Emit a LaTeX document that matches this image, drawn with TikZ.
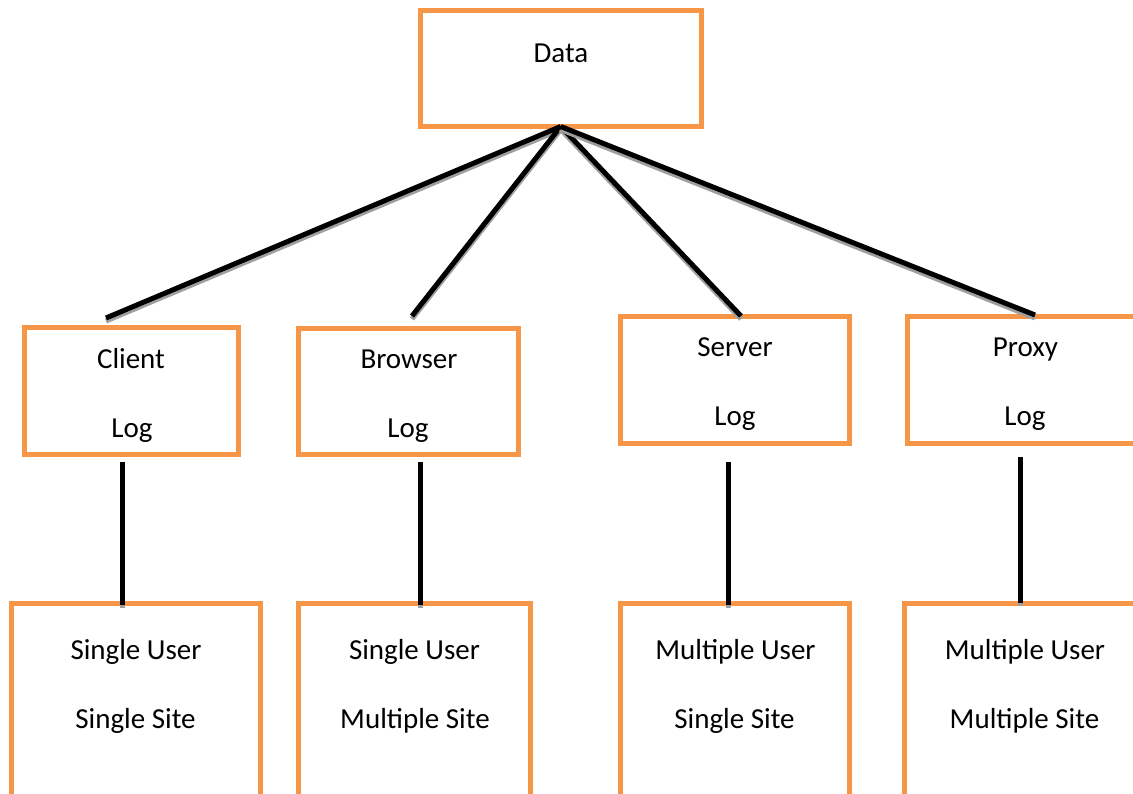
\documentclass[tikz,border=0pt]{standalone}
\usepackage{fontspec}
\setmainfont{Carlito}
\usetikzlibrary{calc}
\definecolor{boxorange}{RGB}{247,150,70}
\tikzset{
  box/.style={draw=boxorange, line width=5pt, fill=white, rectangle,
    inner sep=0pt, outer sep=0pt},
  txt/.style={anchor=base, inner sep=0pt, font=\fontsize{29}{34}\selectfont},
  link/.style={line width=5pt, black,
    preaction={draw=gray!75, line width=5pt, transform canvas={yshift=-3pt}}}
}
\begin{document}
\begin{tikzpicture}[x=1pt, y=-1pt]
\useasboundingbox (0,0) rectangle (1133,794);
\clip (0,0) rectangle (1133,794);

% top box
\node[box, minimum width=281.5pt, minimum height=115.5pt] (data) at (560.75,68.75) {};
\node[txt] (data-t) at (561,63) {Data};

% log boxes
\node[box, minimum width=214pt, minimum height=126.5pt] (client) at (131,391.25) {};
\node[box, minimum width=220pt, minimum height=126pt] (browser) at (408.5,391.5) {};
\node[box, minimum width=228.5pt, minimum height=126pt] (server) at (734.75,380) {};
\node[box, minimum width=233pt, minimum height=126.5pt] (proxy) at (1023.5,380.25) {};

\node[txt] (client-a) at (131,369) {Client};
\node[txt] (client-b) at (132,437) {Log};
\node[txt] (browser-a) at (409,369) {Browser};
\node[txt] (browser-b) at (408,437) {Log};
\node[txt] (server-a) at (735,357) {Server};
\node[txt] (server-b) at (735,425) {Log};
\node[txt] (proxy-a) at (1025.5,357) {Proxy};
\node[txt] (proxy-b) at (1025,425) {Log};

% user / site boxes
\node[box, minimum width=249pt, minimum height=220pt] (cus) at (136,713.5) {};
\node[box, minimum width=232pt, minimum height=220pt] (bus) at (414.5,713.5) {};
\node[box, minimum width=229pt, minimum height=220pt] (sus) at (735,713.5) {};
\node[box, minimum width=235.5pt, minimum height=220pt] (pus) at (1022.25,713.5) {};

\node[txt] (cus-a) at (136,659) {Single User};
\node[txt] (cus-b) at (135.5,728) {Single Site};
\node[txt] (bus-a) at (414.5,659) {Single User};
\node[txt] (bus-b) at (415,728) {Multiple Site};
\node[txt] (sus-a) at (735.5,659) {Multiple User};
\node[txt] (sus-b) at (734.5,728) {Single Site};
\node[txt] (pus-a) at (1025,659) {Multiple User};
\node[txt] (pus-b) at (1024.5,728) {Multiple Site};

% connector end points
\coordinate (client-in) at (106,318);
\coordinate (browser-in) at (412,316);
\coordinate (server-in) at (741,316);
\coordinate (proxy-in) at (1035,315);
\coordinate (client-out) at (122,462);
\coordinate (browser-out) at (420,462);
\coordinate (server-out) at (728,462);
\coordinate (proxy-out) at (1020,457);

% data to logs
\draw[link] (data.south) -- (client-in);
\draw[link] (data.south) -- (browser-in);
\draw[link] (data.south) -- (server-in);
\draw[link] (data.south) -- (proxy-in);

% logs to user / site boxes
\draw[link] (client-out) -- ($(client-out |- cus.north)+(0,1.5)$);
\draw[link] (browser-out) -- ($(browser-out |- bus.north)+(0,1.5)$);
\draw[link] (server-out) -- ($(server-out |- sus.north)+(0,1.5)$);
\draw[link] (proxy-out) -- ($(proxy-out |- pus.north)+(0,-1)$);
\end{tikzpicture}
\end{document}
